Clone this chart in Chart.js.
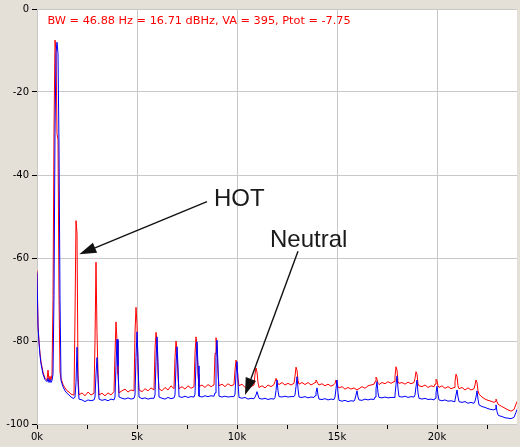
<!DOCTYPE html>
<html>
<head>
<meta charset="utf-8">
<script src="https://cdn.jsdelivr.net/npm/chart.js@4/dist/chart.umd.min.js"></script>
<style>
  html, body { margin: 0; padding: 0; background: #e4e0d8; }
  #wrap { width: 520px; height: 447px; }
</style>
</head>
<body>
<div id="wrap"><canvas id="c" width="520" height="447"></canvas></div>
<script>
// Frequency axis (kHz)
const freqKHz = [
  0,0.05,0.1,0.15,0.2,0.3,0.4,0.5,0.55,0.6,0.65,0.7,0.75,0.8,0.85,0.9,0.95,
  1,1.05,1.1,1.15,1.2,1.3,1.4,1.5,1.6,1.7,1.8,1.85,1.9,1.95,
  2,2.05,2.1,2.25,2.4,2.55,2.7,2.85,2.9,2.95,
  3,3.05,3.1,3.25,3.4,3.55,3.7,3.85,3.9,3.95,
  4,4.05,4.1,4.25,4.4,4.55,4.7,4.85,4.9,4.95,
  5,5.05,5.1,5.25,5.4,5.55,5.7,5.85,5.9,5.95,
  6,6.05,6.1,6.25,6.4,6.55,6.7,6.85,6.9,6.95,
  7,7.05,7.1,7.25,7.4,7.55,7.7,7.85,7.9,7.95,
  8,8.05,8.1,8.25,8.4,8.55,8.7,8.85,8.9,8.95,
  9,9.05,9.1,9.25,9.4,9.55,9.7,9.85,9.9,9.95,
  10,10.05,10.1,10.25,10.4,10.55,10.7,10.85,10.9,10.95,
  11,11.05,11.1,11.25,11.4,11.55,11.7,11.85,11.9,11.95,
  12,12.05,12.1,12.25,12.4,12.55,12.7,12.85,12.9,12.95,
  13,13.05,13.1,13.25,13.4,13.55,13.7,13.85,13.9,13.95,
  14,14.05,14.1,14.25,14.4,14.55,14.7,14.85,14.9,14.95,
  15,15.05,15.1,15.25,15.4,15.55,15.7,15.85,15.9,15.95,
  16,16.05,16.1,16.25,16.4,16.55,16.7,16.85,16.9,16.95,
  17,17.05,17.1,17.25,17.4,17.55,17.7,17.85,17.9,17.95,
  18,18.05,18.1,18.25,18.4,18.55,18.7,18.85,18.9,18.95,
  19,19.05,19.1,19.25,19.4,19.55,19.7,19.85,19.9,19.95,
  20,20.05,20.1,20.25,20.4,20.55,20.7,20.85,20.9,20.95,
  21,21.05,21.1,21.25,21.4,21.55,21.7,21.85,21.9,21.95,
  22,22.05,22.1,22.25,22.4,22.55,22.7,22.85,22.9,22.95,
  23,23.05,23.1,23.25,23.4,23.55,23.7,23.85,23.95,24
];

// HOT (red) spectrum, dB
const hotDb = [
  -63,-76,-80,-83,-85,-87.5,-89,-89.5,-87,-89.5,-88.5,-89.5,-88,-70,-29.5,-7.5,-9.8,
  -30,-31.5,-69,-87.5,-89,-90.5,-91.3,-92,-92.3,-92.8,-93,-93,-74,-51,
  -54,-88,-93,-92.5,-93.2,-92.3,-93,-92.6,-80,-61,
  -78,-88,-93,-92.6,-93.2,-92.5,-93,-92.2,-83,-75.4,
  -80,-88,-92.5,-92,-91.6,-92.3,-91.8,-92,-78,-71.9,
  -76,-87,-91.8,-92.2,-91.5,-92,-91.3,-91.8,-82,-77.9,
  -80,-88,-91.5,-92,-91.2,-91.8,-90.8,-91.5,-84,-80,
  -82,-89,-91.5,-91,-91.6,-90.8,-91.4,-91,-83,-79,
  -81,-88,-91,-90.6,-91.2,-90.5,-91,-90.6,-83,-79.2,
  -81,-88,-90.8,-90.4,-91,-90.3,-90.8,-90.5,-87,-84.6,
  -85.5,-89,-90.8,-90.4,-91.2,-90.6,-91,-90.6,-88,-86.5,
  -87.5,-90,-91.2,-90.8,-91.3,-90.6,-91,-90.5,-89.8,-89,
  -89.5,-90.3,-90.5,-90,-90.6,-90.2,-90.6,-90.2,-88.5,-86.3,
  -87,-89.5,-90.4,-90,-90.5,-90,-90.6,-90.2,-90,-89.4,
  -89.8,-90.3,-90.6,-90.3,-90.8,-90.4,-90.9,-90.5,-90.2,-89.4,
  -90,-91,-91.3,-91,-91.6,-91.2,-91.6,-91.3,-91.5,-91.6,
  -91.8,-91.6,-91.5,-91,-91.4,-90.8,-90.6,-90.4,-89.8,-88.7,
  -89.2,-90.2,-90.5,-90,-90.3,-89.8,-90.2,-89.8,-88.5,-86.2,
  -87,-89.8,-90.2,-90,-90.4,-89.9,-90.3,-90,-89,-87.4,
  -88,-90.3,-90.8,-91,-90.6,-91.2,-90.8,-91,-90.4,-89.2,
  -89.6,-90.8,-91.2,-90.8,-91.4,-91,-91.5,-91.2,-89.8,-88,
  -88.6,-90.8,-91.5,-91.2,-91.8,-91.3,-91.8,-91.5,-90.6,-89.4,
  -90,-92,-92.8,-93.5,-94,-94.3,-94.5,-94.8,-94.6,-94,
  -94.6,-95.2,-95.4,-95.8,-96.2,-96.6,-96.9,-96.5,-95.2,-94.6
];

// Neutral (blue) spectrum, dB
const neutralDb = [
  -63.5,-76.5,-80.5,-83.5,-85.5,-88,-89.3,-89.8,-89,-90,-89.3,-90,-89.5,-88,-69,-30,-10.5,
  -8,-10.8,-33,-70,-89.5,-91,-92,-92.6,-93,-93.5,-93.8,-93.8,-93.5,-90,
  -81.5,-90,-94,-94.2,-94.6,-94.2,-94.4,-94.2,-93.5,-88,
  -84,-89,-94,-94.3,-94.1,-94.4,-94,-94.2,-93.5,-86,
  -79.6,-86,-93.5,-93.8,-94,-93.7,-94,-93.8,-93,-84,
  -77.8,-84,-93.5,-93.9,-93.7,-94,-93.8,-93.8,-93,-85,
  -79,-85,-93.5,-93.8,-94,-93.6,-93.9,-93.7,-93,-86,
  -81.4,-86,-93.4,-93.6,-93.3,-93.6,-93.4,-93.5,-92.8,-85,
  -80.2,-86,-93.3,-93.5,-93.2,-93.4,-93.2,-93.3,-92.5,-84,
  -79.8,-86,-93.3,-93.5,-93.3,-93.5,-93.4,-93.4,-92.8,-88,
  -85,-90,-93.6,-93.8,-93.6,-94,-93.8,-93.9,-93.5,-93,
  -92.2,-93,-93.8,-94,-93.8,-94.1,-93.9,-94,-93.6,-92,
  -89.4,-92,-93.4,-93.5,-93.3,-93.5,-93.4,-93.4,-93,-91,
  -88.6,-91.5,-93.5,-93.6,-93.4,-93.7,-93.5,-93.6,-93.2,-92.5,
  -91.3,-93,-94,-94.1,-93.9,-94.2,-94,-94.1,-93.5,-91.5,
  -89.4,-92.5,-94.3,-94.5,-94.3,-94.6,-94.4,-94.5,-94,-93,
  -92,-93.5,-94.2,-94.3,-94,-94.2,-94,-94.1,-93.5,-91.5,
  -89.8,-92.5,-93.6,-93.7,-93.5,-93.7,-93.6,-93.6,-93,-90.5,
  -88.4,-91.5,-93.4,-93.5,-93.3,-93.6,-93.4,-93.5,-93,-91,
  -89.4,-92.5,-93.8,-94,-93.8,-94.1,-94,-94.2,-93.8,-92.5,
  -90.9,-93,-94.2,-94.4,-94.2,-94.5,-94.4,-94.6,-94.2,-93,
  -91.8,-93.5,-94.6,-94.8,-94.6,-95,-94.8,-95,-94.5,-93.5,
  -92,-94,-95.4,-95.8,-96,-96.3,-96.5,-96.6,-96.4,-95.4,
  -97,-97.8,-98,-98.2,-98.5,-98.6,-98.7,-98.4,-97.2,-96.5
];

// Axis ticks
const xTickValues = [0,2.5,5,7.5,10,12.5,15,17.5,20,22.5];
const xTickLabels = {0:'0k',5:'5k',10:'10k',15:'15k',20:'20k'};
const yTickValues = [0,-20,-40,-60,-80,-100];

// Texts
const headerText = 'BW = 46.88 Hz = 16.71 dBHz, VA = 395, Ptot = -7.75';
const hotLabel = { text: 'HOT', x: 8.85, y: -47.4, fromX: 8.5, fromY: -46.4, toX: 2.115, toY: -59.1 };
const neutralLabel = { text: 'Neutral', x: 11.65, y: -57.3, fromX: 13.05, fromY: -58.4, toX: 10.4, toY: -93.0 };

const hotPts = freqKHz.map((f, i) => ({ x: f, y: hotDb[i] }));
const neuPts = freqKHz.map((f, i) => ({ x: f, y: neutralDb[i] }));

const bgPlugin = {
  id: 'bg',
  beforeDraw(chart) {
    const { ctx, chartArea: a } = chart;
    ctx.save();
    ctx.fillStyle = '#e4e0d8';
    ctx.fillRect(0, 0, chart.width, chart.height);
    ctx.fillStyle = '#ffffff';
    ctx.fillRect(a.left, a.top, a.right - a.left, a.bottom - a.top);
    ctx.restore();
  }
};

function arrow(ctx, x1, y1, x2, y2, len, hw) {
  const dx = x2 - x1, dy = y2 - y1;
  const d = Math.hypot(dx, dy);
  const ux = dx / d, uy = dy / d;
  const bx = x2 - ux * len, by = y2 - uy * len;
  ctx.beginPath();
  ctx.moveTo(x1, y1);
  ctx.lineTo(bx, by);
  ctx.stroke();
  ctx.beginPath();
  ctx.moveTo(x2, y2);
  ctx.lineTo(bx - uy * hw, by + ux * hw);
  ctx.lineTo(bx + uy * hw, by - ux * hw);
  ctx.closePath();
  ctx.fill();
}

const annoPlugin = {
  id: 'anno',
  afterDatasetsDraw(chart) {
    const { ctx, chartArea: a, scales: { x, y } } = chart;
    ctx.save();
    ctx.fillStyle = '#ff0000';
    ctx.font = '11.3px "DejaVu Sans"';
    ctx.textBaseline = 'alphabetic';
    ctx.textAlign = 'left';
    ctx.fillText(headerText, a.left + 10.5, a.top + 15);

    ctx.strokeStyle = '#111';
    ctx.fillStyle = '#111';
    ctx.lineWidth = 1.4;
    [hotLabel, neutralLabel].forEach(l => {
      arrow(ctx, x.getPixelForValue(l.fromX), y.getPixelForValue(l.fromY),
                 x.getPixelForValue(l.toX), y.getPixelForValue(l.toY), 17, 5.5);
    });
    ctx.font = '24px "Liberation Sans", Arial, sans-serif';
    ctx.fillStyle = '#1a1a1a';
    [hotLabel, neutralLabel].forEach(l => {
      ctx.fillText(l.text, x.getPixelForValue(l.x), y.getPixelForValue(l.y));
    });
    ctx.restore();
  }
};

new Chart(document.getElementById('c'), {
  type: 'line',
  data: {
    datasets: [
      { label: 'Neutral', data: neuPts, borderColor: '#0000ff', borderWidth: 1, pointRadius: 0, tension: 0, order: 1 },
      { label: 'HOT', data: hotPts, borderColor: '#ff0000', borderWidth: 1, pointRadius: 0, tension: 0, order: 2 }
    ]
  },
  options: {
    responsive: false,
    animation: false,
    events: [],
    layout: { padding: { top: 8, right: 3, left: 0, bottom: 0 } },
    plugins: { legend: { display: false }, tooltip: { enabled: false } },
    scales: {
      x: {
        type: 'linear', min: 0, max: 24,
        afterBuildTicks(s) { s.ticks = xTickValues.map(v => ({ value: v })); },
        afterFit(s) { s.height = 23; },
        border: { display: false },
        grid: {
          color: c => (c.tick && xTickLabels[c.tick.value] !== undefined) ? '#c8c8c8' : 'rgba(0,0,0,0)',
          tickColor: '#000', tickLength: 5, lineWidth: 1
        },
        ticks: {
          autoSkip: false, maxRotation: 0, padding: 2,
          color: '#000', font: { family: 'DejaVu Sans', size: 10 },
          callback: v => xTickLabels[v] !== undefined ? xTickLabels[v] : ''
        }
      },
      y: {
        type: 'linear', min: -100, max: 0,
        afterBuildTicks(s) { s.ticks = yTickValues.map(v => ({ value: v })); },
        afterFit(s) { s.width = 37; },
        border: { display: false },
        grid: { color: '#c8c8c8', tickColor: '#000', tickLength: 5, lineWidth: 1 },
        ticks: { padding: 3, color: '#000', font: { family: 'DejaVu Sans', size: 10 } }
      }
    }
  },
  plugins: [bgPlugin, annoPlugin]
});
</script>
</body>
</html>
